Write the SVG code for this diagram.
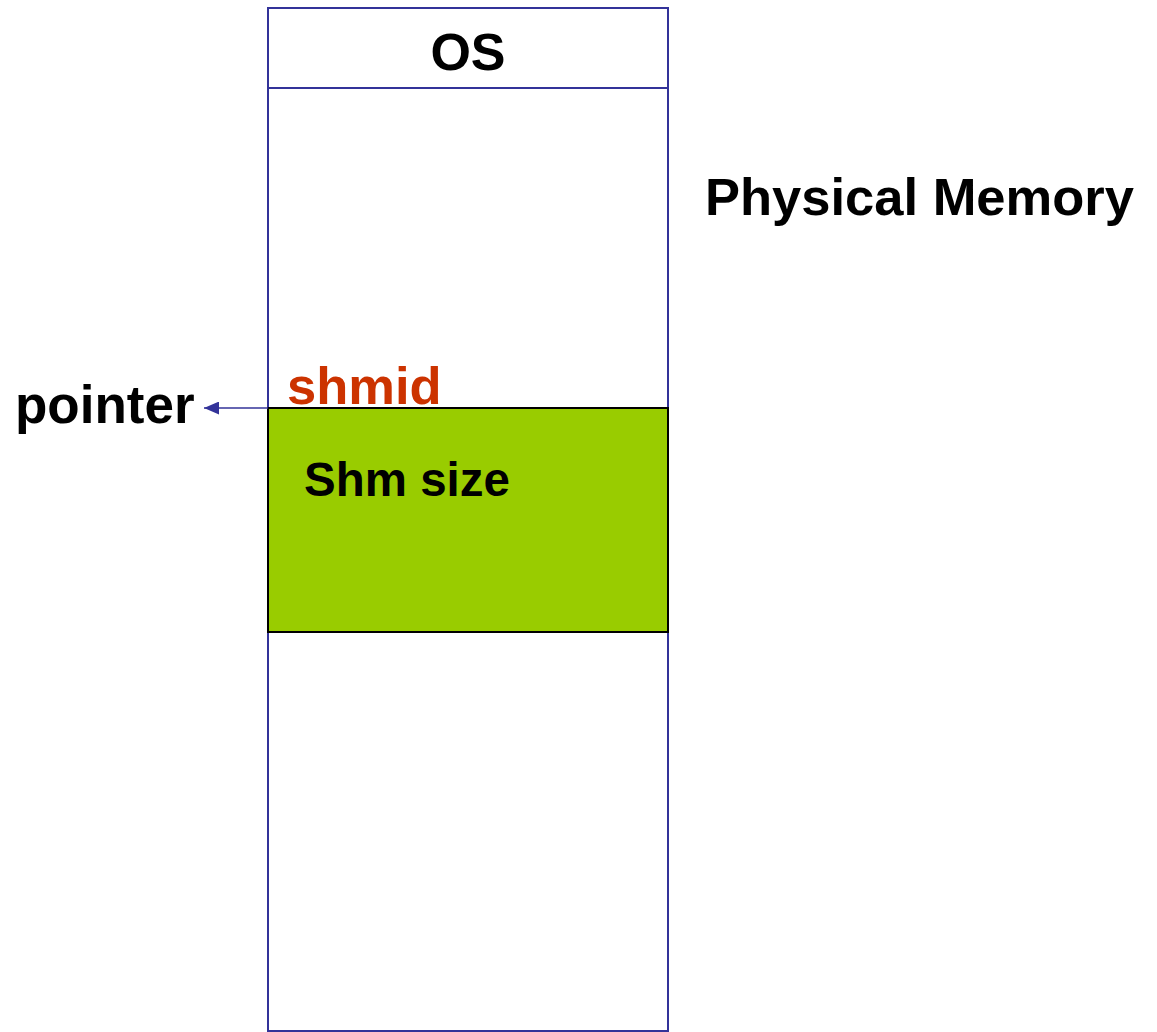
<svg xmlns="http://www.w3.org/2000/svg" width="1157" height="1032" viewBox="0 0 1157 1032">
  <defs>
    <style>
      .frame { fill: #ffffff; stroke: #333399; stroke-width: 2; }
      .seg { fill: #99cc00; stroke: #000000; stroke-width: 2; }
      text { font-family: 'Liberation Sans', Arial, Helvetica, sans-serif; font-weight: 700; fill: #000000; }
      .red { fill: #cc3300; }
      .link { stroke: #333399; stroke-width: 1.5; fill: none; }
    </style>
    <marker id="arrow" viewBox="0 0 15 13" refX="15" refY="6.5" markerWidth="15" markerHeight="13" markerUnits="userSpaceOnUse" orient="auto">
      <path d="M0,0 L15,6.5 L0,13 z" fill="#333399"/>
    </marker>
  </defs>

  <!-- physical memory column -->
  <g id="memory">
    <rect class="frame" x="268" y="8" width="400" height="1023"/>
    <line x1="268" y1="88" x2="668" y2="88" stroke="#333399" stroke-width="2"/>
  </g>

  <g id="os">
    <text x="468" y="70" font-size="52" text-anchor="middle">OS</text>
  </g>

  <g id="shm-segment">
    <rect class="seg" x="268" y="408" width="400" height="224"/>
    <text x="304" y="496" font-size="47.5">Shm size</text>
  </g>

  <g id="shmid">
    <text class="red" x="287" y="404" font-size="52.5">shmid</text>
  </g>

  <g id="pointer">
    <text x="15" y="423" font-size="53">pointer</text>
  </g>

  <g id="title">
    <text x="705" y="215" font-size="52.5">Physical Memory</text>
  </g>

  <g id="connectors">
    <line class="link" x1="268" y1="408" x2="204" y2="408" marker-end="url(#arrow)"/>
  </g>
</svg>
